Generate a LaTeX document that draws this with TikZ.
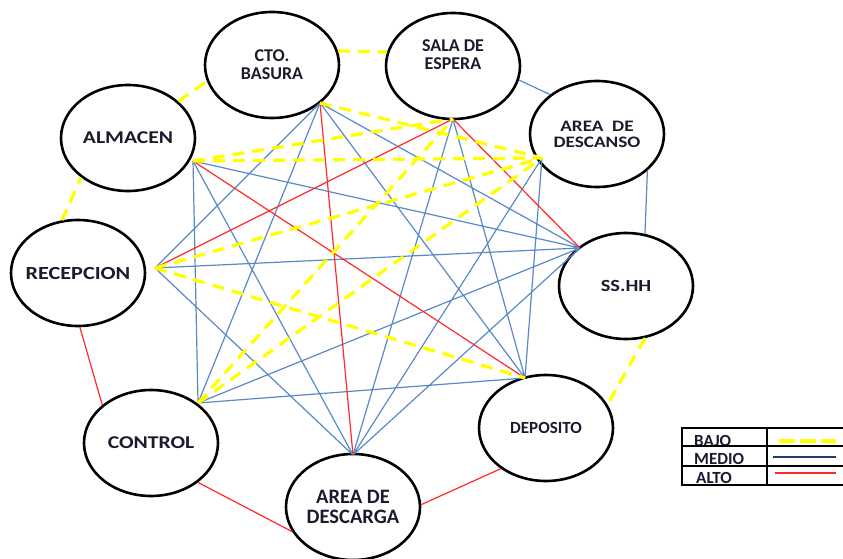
\documentclass[tikz,border=0pt]{standalone}
\usepackage{fontspec}
\setmainfont{Carlito}
\newfontfamily\wideft[FakeStretch=1.2]{Carlito}
\usetikzlibrary{shapes.geometric}
\definecolor{roomink}{HTML}{1B1B2F}
\definecolor{bajoyellow}{HTML}{FFFF00}
\definecolor{medioblue}{HTML}{5A8AC6}
\definecolor{altored}{HTML}{FF2A2A}
\definecolor{keynavy}{HTML}{1F3A6E}
\newcommand{\roomfont}[1]{\fontsize{#1}{#1}\selectfont\bfseries}
\newcommand{\roomwide}[1]{\wideft\fontsize{#1}{#1}\selectfont\bfseries}
\tikzset{
  room/.style  = {ellipse, draw=black, line width=2.6pt, minimum width=134pt,
                  minimum height=106pt, inner sep=-15pt, align=center, text=roomink},
  bajo/.style  = {draw=bajoyellow, line width=3.2pt, dash pattern=on 12pt off 8pt},
  medio/.style = {draw=medioblue, line width=1.2pt},
  alto/.style  = {draw=altored, line width=1.2pt},
  keytxt/.style= {inner sep=0pt, anchor=base west, text=roomink, font=\roomfont{17}},
}

\begin{document}
\begin{tikzpicture}[x=1pt,y=-1pt]
  \useasboundingbox (0,0) rectangle (843,559);
  \fill[white] (0,0) rectangle (843,559);

  \node[room, font=\roomfont{18}] (cb) at (272,65) {CTO.\\BASURA};
  \node[room, font=\roomfont{18}, text depth=22pt] (se) at (453,66) {SALA DE\\ESPERA};
  \node[room, font=\roomwide{16}] (ad) at (597,134) {AREA \ DE\\DESCANSO};
  \node[room, font=\roomwide{17}] (ss) at (626,286) {SS.HH};
  \node[room, font=\roomfont{17}] (de) at (546,428) {DEPOSITO};
  \node[room, font=\roomfont{20.5}] (dc) at (353,507) {AREA DE\\DESCARGA};
  \node[room, font=\roomwide{18}] (co) at (151,443) {CONTROL};
  \node[room, font=\roomwide{18.5}] (re) at (78,273) {RECEPCION};
  \node[room, font=\roomwide{18}] (al) at (128,138) {ALMACEN};

  \coordinate (hcb) at (320,103);
  \coordinate (hse) at (453,119);
  \coordinate (had) at (542,158);
  \coordinate (hss) at (580,248);
  \coordinate (hde) at (525,378);
  \coordinate (hdc) at (353,455);
  \coordinate (hco) at (198,403);
  \coordinate (hre) at (155,268);
  \coordinate (hal) at (193,161);

  \draw[medio] (hcb) -- (hss) (hcb) -- (hde) (hcb) -- (hco) (hcb) -- (hre)
    (hse) -- (hdc) (hse) -- (hde) (had) -- (hde) (had) -- (hdc)
    (hss) -- (hal) (hss) -- (hre) (hss) -- (hco) (hss) -- (hdc)
    (hde) -- (hco) (hdc) -- (hal) (hdc) -- (hre) (hal) -- (hco);
  \draw[alto] (hcb) -- (hdc) (hse) -- (hre) (hse) -- (hss) (hal) -- (hde);
  \draw[bajo] (hcb) -- (had) (hal) -- (hse) (hal) -- (had) (hre) -- (had)
    (hre) -- (hde) (hco) -- (hse) (hco) -- (had);

  \draw[bajo] (cb.12) -- (se.168);
  \draw[medio] (se.-12) -- (ad.140);
  \draw[medio] (ad.-36) -- (ss.70);
  \draw[bajo] (ss.-70) -- (de.21);
  \draw[alto] (de.222) -- (dc.2);
  \draw[alto] (dc.202) -- (co.-40);
  \draw[alto] (co.142) -- (re.-88);
  \draw[bajo] (re.107) -- (al.220);
  \draw[bajo] (al.36) -- (cb.194);

  \node[keytxt] (kbajo) at (694,446) {BAJO};
  \node[keytxt] (kmedio) at (694,464) {MEDIO};
  \node[keytxt] (kalto) at (696,483) {ALTO};
  \draw[line width=1.4pt] (682,446) -- (850,446) (682,466) -- (850,466)
    (767,428) -- (767,485);
  \draw[line width=2.6pt] (682,428) rectangle (850,485);
  \draw[draw=bajoyellow, line width=4pt, dash pattern=on 16pt off 5pt] (779,441) -- (836,441);
  \draw[draw=keynavy, line width=2pt] (773,457) -- (836,457);
  \draw[draw=altored, line width=2pt] (775,473) -- (836,473);
\end{tikzpicture}
\end{document}
